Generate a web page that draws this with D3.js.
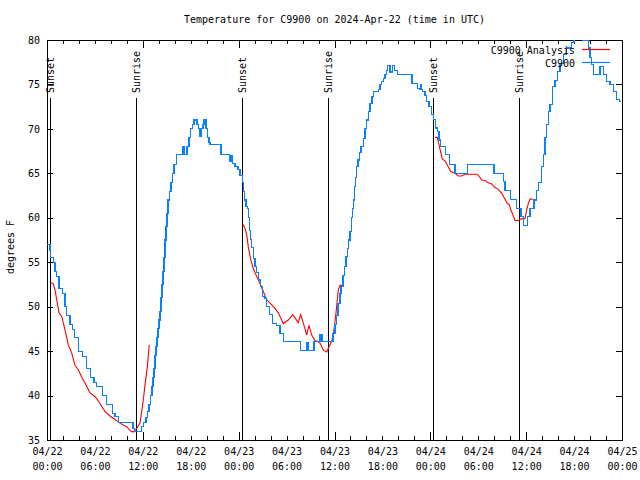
<!DOCTYPE html>
<html><head><meta charset="utf-8">
<script src="https://cdn.jsdelivr.net/npm/d3@7"></script>
<style>body{margin:0;background:#fff}svg{display:block}text{font-family:"DejaVu Sans Mono","Liberation Mono",monospace;font-size:10px;fill:#000}</style>
</head><body><svg id="c" width="640" height="480"></svg>
<script>
// ---- data (hours since 2024-04-22 00:00 UTC) ----
const stationHours = [0,0.376,0.463,0.789,1.002,1.215,1.503,1.966,2.254,2.467,2.880,3.218,3.418,3.919,4.470,4.971,5.472,5.885,6.224,6.925,7.476,8.227,8.515,8.928,10.769,10.957,11.858,12.059,12.397,12.560,12.772,12.960,13.148,13.273,13.399,13.524,13.649,13.774,13.899,14.025,14.150,14.275,14.400,14.526,14.651,14.776,14.901,15.026,15.152,15.339,15.527,15.715,15.903,16.241,16.942,17.155,17.531,17.781,17.994,18.220,18.407,18.783,18.971,19.159,19.347,19.534,19.660,19.910,20.098,20.286,20.411,21.788,22.853,23.041,23.229,23.542,23.917,24.168,24.456,24.606,24.706,24.919,25.132,25.232,25.332,25.483,25.633,25.833,26.046,26.259,26.460,26.760,26.960,27.298,27.511,27.837,28.263,28.764,29.177,29.590,31.744,32.558,32.746,33.434,34.186,34.436,35.813,36.064,36.252,36.439,36.690,36.815,37.065,37.253,37.441,37.629,37.754,37.942,38.130,38.255,38.355,38.505,38.631,38.781,38.944,39.107,39.320,39.608,39.821,40.034,40.259,40.447,40.697,40.860,41.486,41.699,41.912,42.137,42.325,42.513,42.663,42.951,43.239,43.514,43.865,45.705,46.394,46.620,46.770,46.920,47.020,47.333,47.546,47.834,48.172,48.373,48.673,48.874,49.086,49.299,49.925,50.376,51.090,52.630,55.973,57.138,57.350,58.064,58.815,59.354,59.642,60.143,60.481,60.982,61.320,61.520,61.946,62.146,62.359,62.572,62.772,62.985,63.323,63.611,63.899,64.237,64.650,65.076,65.702,65.990,66.241,67.118,67.368,67.556,67.782,67.995,68.207,68.408,69.247,69.685,70.086,70.499,70.913,71.339,71.664,71.877];
const stationTemps = [57,56.3,55.5,55,54,53.4,52,51.5,50,49,48,47.4,46.5,45,44.4,43,42,41.5,41,40,39,38,37.6,37,36.3,36,36.5,37,37.5,38.2,39,40,41,42,43,44.5,45.5,46.5,47.5,48.5,49.5,51,52.5,54,55.5,57.5,59,60.5,62,63,64,65,66,67.1,68,67.1,68,69,70,70.5,71,70.5,70,69.2,70,70.5,71,70,69,68.5,68.2,67.1,66.3,67,66.1,65.8,65.4,64.8,64,63,62,61.3,61,60,58.6,57.6,56.7,55.4,54.5,53.8,53,52.3,51.1,50.9,50,49.1,48.1,47.9,47,46.1,45.1,46,45.1,46.1,46.9,46.1,47,48,49,50.4,51.5,52.3,53.5,54.5,55.6,56.5,57.5,58.5,60,61,62,63.5,64.5,65.8,66.5,67.3,68,68.9,70,71,72,72.9,73.6,74.2,74.4,75,75.3,75.7,76.1,76.6,77.1,76.4,77.1,76.6,76.1,75.1,74.5,74.4,75,74.4,74.2,73.8,73.1,72.5,71.6,71.1,70.1,69.7,68.75,68,67.1,66,65,66,65,64.1,63.1,62.1,61,60.1,59.1,60.1,61,62,63.1,64,65.8,67.1,69,70.5,72,72.7,74.8,75.4,76.5,77.4,78.4,79.1,79.7,80.5,81,80,81,80,79.1,78,77.2,76.1,77,76.1,75.3,75,74.2,73.3,73.1,73.1];

const analysisHours1 = [0.463,0.789,1.002,1.215,1.503,1.841,2.254,2.667,3.093,3.506,3.919,4.345,4.758,5.384,6.011,6.637,7.263,7.889,8.515,9.141,9.980,10.481,10.806,11.232,11.645,11.858,12.059,12.272,12.560,12.810];
const analysisTemps1 = [52.7,52.6,51.9,50.8,49.3,48.9,47.4,45.7,44.8,43.4,42.9,42.1,41.4,40.3,39.9,39.1,38.2,37.7,37.3,36.9,36.5,36,35.9,36.3,36.9,38.2,39.5,41.2,43.2,45.7];
const analysisHours2 = [24.506,24.794,25.007,25.207,25.508,25.833,26.259,26.672,27.086,27.511,27.925,28.551,28.964,29.590,30.216,30.767,31.468,31.769,32.182,32.520,32.808,33.146,33.559,33.847,34.186,34.599,35.025,35.313,35.651,35.939,36.189,36.477,36.690,36.978];
const analysisTemps2 = [59.3,58.8,58.1,56.7,55.3,54.3,53.4,52.6,51.7,50.8,50.4,49.8,49.3,48.1,48.5,49.1,48.2,49.1,47.9,46.8,47.9,46.8,46.2,46.1,45.9,45.1,44.9,45.5,46.1,47.4,49.3,51.9,52.4,52.4];
const analysisHours3 = [48.586,48.874,49.086,49.299,49.499,49.837,50.250,50.551,51.089,51.503,51.928,52.342,53.882,54.220,54.433,54.846,55.260,55.686,56.099,56.512,56.938,57.351,57.639,57.889,58.064,58.315,58.603,59.016,59.229,59.441,59.855,60.068,60.268,60.481,60.819];
const analysisTemps3 = [69.05,69.05,68.2,67.4,66.6,66.4,65.75,65.2,65,64.7,64.7,64.9,64.9,64.55,64.25,64.2,63.95,63.8,63.4,63.2,62.75,62.1,61.6,61.5,60.9,60.4,59.7,59.7,59.8,59.9,59.9,60.9,61.6,62.1,62.1];

const sunEventHours = [0.42,11.18,24.46,35.23,48.37,59.14];
const sunEventLabels = ["Sunset","Sunrise","Sunset","Sunrise","Sunset","Sunrise"];
const yTicks = [35,40,45,50,55,60,65,70,75,80];
const legendLabels = ["C9900 Analysis","C9900"];
const seriesColors = ["#ff0000","#0a80ff"];
const titleText = "Temperature for C9900 on 2024-Apr-22 (time in UTC)";
const yLabel = "degrees F";

// ---- chart ----
const t0 = Date.UTC(2024,3,22);
const toDate = h => new Date(t0 + h*3600000);
const L=47,R=622,T=40,B=440;
const svg = d3.select("#c");
const x = d3.scaleUtc().domain([toDate(0), toDate(72)]).range([L,R]);
const y = d3.scaleLinear().domain([35,80]).range([B,T]);

svg.append("defs").append("clipPath").attr("id","clip").append("rect")
  .attr("x",L).attr("y",T).attr("width",R-L).attr("height",B-T);

svg.append("text").attr("x",(L+R)/2).attr("y",23).attr("text-anchor","middle").text(titleText);
svg.append("text").attr("transform","translate(14,247) rotate(-90)").attr("text-anchor","middle").text(yLabel);

// x axes: minor ticks every 2h, major every 12h, labels every 6h
const gb = svg.append("g").attr("transform",`translate(0,${B})`);
gb.call(d3.axisBottom(x).ticks(d3.utcHour.every(2)).tickSizeInner(-4).tickSizeOuter(0).tickFormat(""));
gb.append("g").call(d3.axisBottom(x).ticks(d3.utcHour.every(12)).tickSizeInner(-8).tickSizeOuter(0).tickFormat(""));
const lab = gb.append("g").call(d3.axisBottom(x).ticks(d3.utcHour.every(6)).tickSize(0).tickPadding(7).tickFormat(""));
lab.select(".domain").remove();
lab.selectAll(".tick text").each(function(d){
  const t = d3.select(this);
  t.append("tspan").attr("x",0).attr("dy","0.71em").text(d3.utcFormat("%m/%d")(d));
  t.append("tspan").attr("x",0).attr("dy","1.5em").text(d3.utcFormat("%H:%M")(d));
}).attr("dy",null).attr("y",8);
const gt = svg.append("g").attr("transform",`translate(0,${T})`);
gt.call(d3.axisTop(x).ticks(d3.utcHour.every(2)).tickSizeInner(-4).tickSizeOuter(0).tickFormat(""));
gt.append("g").call(d3.axisTop(x).ticks(d3.utcHour.every(12)).tickSizeInner(-8).tickSizeOuter(0).tickFormat(""));

const gl = svg.append("g").attr("transform",`translate(${L},0)`)
  .call(d3.axisLeft(y).tickValues(yTicks).tickSizeInner(-6).tickSizeOuter(0).tickPadding(7));
const gr = svg.append("g").attr("transform",`translate(${R},0)`)
  .call(d3.axisRight(y).tickValues(yTicks).tickSizeInner(-6).tickSizeOuter(0).tickFormat(""));
svg.selectAll(".domain").attr("stroke","#000").attr("stroke-width",1).attr("shape-rendering","crispEdges");
svg.selectAll(".tick line").attr("stroke","#000").attr("shape-rendering","crispEdges");
svg.selectAll(".tick text").attr("font-family",null).attr("font-size",null);
svg.selectAll("g[font-family]").attr("font-family",null).attr("font-size",null);

// sunrise / sunset markers
sunEventHours.forEach((h,i)=>{
  const xp = x(toDate(h));
  svg.append("line").attr("x1",xp).attr("x2",xp).attr("y1",98).attr("y2",B).attr("stroke","#000").attr("stroke-width",1).attr("shape-rendering","crispEdges");
  svg.append("text").attr("transform",`translate(${xp+4},93) rotate(-90)`).attr("text-anchor","start").text(sunEventLabels[i]);
});

const plot = svg.append("g").attr("clip-path","url(#clip)");
const lineA = d3.line().x(d=>x(toDate(d[0]))).y(d=>y(d[1]));
[[analysisHours1,analysisTemps1],[analysisHours2,analysisTemps2],[analysisHours3,analysisTemps3]].forEach(([hs,vs])=>{
  plot.append("path").datum(hs.map((h,i)=>[h,vs[i]])).attr("d",lineA)
    .attr("fill","none").attr("stroke",seriesColors[0]).attr("stroke-width",1.1);
});
const lineS = d3.line().curve(d3.curveStepAfter).x(d=>x(toDate(d[0]))).y(d=>y(d[1]));
plot.append("path").datum(stationHours.map((h,i)=>[h,stationTemps[i]])).attr("d",lineS)
  .attr("fill","none").attr("stroke",seriesColors[1]).attr("stroke-width",1.1).attr("shape-rendering","crispEdges");

// legend
legendLabels.forEach((l,i)=>{
  const yy = 49.5 + i*13;
  svg.append("text").attr("x",575).attr("y",yy+4).attr("text-anchor","end").text(l);
  svg.append("line").attr("x1",582).attr("x2",610).attr("y1",yy).attr("y2",yy).attr("stroke",seriesColors[i]).attr("stroke-width",1.2);
});
</script></body></html>
